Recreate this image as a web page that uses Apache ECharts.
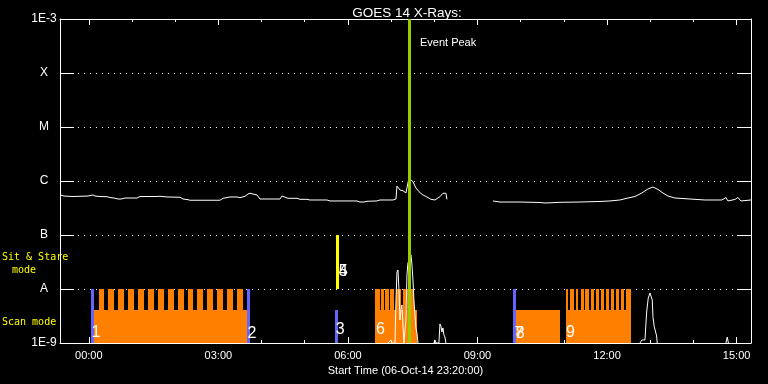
<!DOCTYPE html>
<html><head><meta charset="utf-8">
<script src="https://cdn.jsdelivr.net/npm/echarts@6/dist/echarts.min.js"></script>
<style>html,body{margin:0;padding:0;background:#000}#c{width:768px;height:384px}</style>
</head><body><div id="c"></div>
<script>
// Time unit: hours after 00:00 on 07-Oct-14 (plot starts 06-Oct-14 23:20:00)
const axisStart = -2/3, axisEnd = 15 + 1/3;
const majorHours = [0, 3, 6, 9, 12, 15];
const minorHours = [1, 2, 4, 5, 7, 8, 10, 11, 13, 14];
const levelNames = {'-9':'1E-9','-8':'A','-7':'B','-6':'C','-5':'M','-4':'X','-3':'1E-3'};
const floorLevel = 1e-9, scanLevel = 4.08e-9, aLevel = 1e-8, bLevel = 1e-7;

const goesPart1 = [[-0.667,5.51e-7],[-0.574,5.27e-7],[-0.389,5.16e-7],[-0.204,5.21e-7],[-0.018,5.27e-7],[0.028,5.51e-7],[0.097,5.51e-7],[0.144,5.27e-7],[0.26,5.16e-7],[0.422,5.12e-7],[0.491,4.94e-7],[0.584,4.84e-7],[0.677,4.64e-7],[0.746,4.64e-7],[0.839,4.84e-7],[0.954,4.84e-7],[1.117,4.84e-7],[1.186,5.16e-7],[1.418,5.16e-7],[1.533,5.16e-7],[1.579,5.34e-7],[1.649,5.21e-7],[1.811,5.06e-7],[2.112,5.0e-7],[2.182,4.64e-7],[2.297,4.51e-7],[2.344,4.4e-7],[3.038,4.4e-7],[3.108,4.78e-7],[3.27,5.06e-7],[3.432,5.06e-7],[3.501,4.91e-7],[3.617,5.21e-7],[3.686,5.74e-7],[3.733,5.92e-7],[3.802,5.74e-7],[3.894,5.51e-7],[3.964,4.64e-7],[4.195,4.64e-7],[4.427,4.64e-7],[4.473,5.27e-7],[4.519,5.06e-7],[4.612,4.78e-7],[4.821,4.78e-7],[4.89,4.58e-7],[5.052,4.58e-7],[5.122,4.45e-7],[5.515,4.45e-7],[5.585,4.27e-7],[6.21,4.27e-7],[6.279,4.08e-7],[6.372,4.08e-7],[6.441,4.21e-7],[6.673,4.27e-7],[6.742,4.45e-7],[7.043,4.45e-7],[7.113,4.64e-7],[7.136,8.07e-7],[7.159,7.74e-7],[7.205,6.81e-7],[7.275,6.61e-7],[7.321,6.07e-7],[7.344,6.0e-7],[7.367,7.42e-7],[7.413,1.14e-6],[7.436,1.17e-6],[7.506,9.7e-7],[7.575,7.42e-7],[7.645,6.34e-7],[7.737,5.51e-7],[7.83,5.06e-7],[7.922,4.58e-7],[8.015,4.45e-7],[8.061,4.58e-7],[8.131,5.12e-7],[8.2,5.92e-7],[8.27,5.92e-7],[8.293,4.58e-7]];
const goesPart2 = [[9.357,4.27e-7],[9.52,4.08e-7],[9.983,4.08e-7],[10.446,4.0e-7],[10.562,3.91e-7],[10.909,4.03e-7],[11.372,4.08e-7],[11.835,4.18e-7],[12.067,4.27e-7],[12.298,4.45e-7],[12.484,4.84e-7],[12.646,5.16e-7],[12.808,6.0e-7],[12.947,7.11e-7],[13.063,7.74e-7],[13.179,6.96e-7],[13.294,6.0e-7],[13.41,5.27e-7],[13.572,4.84e-7],[13.92,4.64e-7],[14.267,4.45e-7],[14.66,4.45e-7],[14.753,4.94e-7],[14.799,4.27e-7],[14.961,4.55e-7],[15.031,4.94e-7],[15.1,4.27e-7],[15.332,4.45e-7]];
const lowCurve = [[6.929,1e-9],[6.998,1.14e-9],[7.021,1e-9],[7.09,1e-9],[7.113,6.25e-9],[7.136,2.06e-8],[7.159,2.25e-8],[7.182,9.58e-9],[7.205,2.67e-9],[7.229,4.08e-9],[7.252,5.06e-9],[7.275,2.15e-9],[7.298,1e-9],[7.321,1e-9],[7.344,2.67e-9],[7.367,1.82e-8],[7.39,3.03e-8],[7.436,3.75e-8],[7.46,4.27e-8],[7.483,2.78e-8],[7.506,1.47e-8],[7.529,6.25e-9],[7.552,3.3e-9],[7.575,1.9e-9],[7.599,1.53e-9],[7.622,1e-9],[7.8,'-'],
  [7.993,1e-9],[8.015,1.14e-9],[8.038,1e-9],[8.107,1e-9],[8.131,2.25e-9],[8.154,2.06e-9],[8.177,1.6e-9],[8.2,1.9e-9],[8.223,1.41e-9],[8.246,1.29e-9],[8.27,1e-9],[10,'-'],
  [12.762,1e-9],[12.808,1.14e-9],[12.878,1.14e-9],[12.917,3.75e-9],[12.954,6.81e-9],[12.994,8.43e-9],[13.017,8.91e-9],[13.047,6.25e-9],[13.063,3.07e-9],[13.093,2.0e-9],[13.125,1.87e-9],[13.148,1.35e-9],[13.162,1e-9],[14,'-'],
  [14.753,1e-9],[14.783,1.29e-9],[14.811,1e-9]];

// Scan-mode intervals [start, end] in hours
const scanBase = [[0.121,3.663],[6.627,7.599],[9.891,10.91],[11.049,12.554]];
const scanSpikes = [[0.236,0.352],[0.445,0.584],[0.676,0.815],[0.908,1.047],[1.139,1.278],[1.371,1.51],[1.602,1.741],[1.834,1.973],[2.065,2.204],[2.297,2.413],[2.506,2.645],[2.737,2.876],[2.968,3.107],[3.2,3.339],[3.431,3.57],
  [6.627,6.743],[6.766,6.835],[6.858,6.951],[6.974,7.066],[7.113,7.229],[7.275,7.344],[7.367,7.529],
  [11.049,11.102],[11.149,11.227],[11.274,11.334],[11.39,11.459],[11.496,11.575],[11.621,11.704],[11.744,11.813],[11.859,11.929],[11.975,12.052],[12.091,12.168],[12.207,12.284],[12.323,12.4],[12.438,12.554]];
// Observation start markers [start, end, top level]
const markerBars = [[0.051,0.121,1e-8],[3.663,3.732,1e-8],[5.7,5.762,4.08e-9],[9.822,9.891,1e-8]];
const sitStare = [[5.731,5.785]];
const obsLabels = ['1','2','3','4','5','6','7','8','9'];
const obsLabelTimes = [0.167,3.78,5.82,5.89,5.89,6.754,9.96,9.99,11.15];
const obsLabelLevels = [1.53e-9,1.47e-9,1.8e-9,2.06e-8,2.06e-8,1.8e-9,1.5e-9,1.47e-9,1.53e-9];
const eventPeak = 7.413;
const eventLabelLevel = 3.67e-4;

const pad = n => (n < 10 ? '0' : '') + n;
const FONT = 'Liberation Sans';

function rectRender(params, api) {
  const p0 = api.coord([api.value(0), api.value(3)]);
  const p1 = api.coord([api.value(1), api.value(2)]);
  const x0 = Math.round(p0[0]), x1 = Math.round(p1[0]);
  const y0 = Math.round(p0[1]), y1 = Math.round(p1[1]);
  return {type:'rect', shape:{x:x0, y:y0, width:Math.max(1,x1-x0), height:y1-y0}, style:{fill:api.visual('color')}};
}
function rectSeries(data, color, z) {
  return {type:'custom', renderItem:rectRender, data:data, encode:{x:[0,1], y:[2,3]},
    itemStyle:{color:color}, z:z, silent:true, animation:false, clip:true};
}

const xBase = {type:'value', min:axisStart, max:axisEnd, gridIndex:0, splitLine:{show:false}};
const option = {
  backgroundColor:'#000',
  animation:false,
  title:{text:'GOES 14 X-Rays:', left:402, top:1, textAlign:'center',
    textStyle:{color:'#fff', fontFamily:FONT, fontSize:13.5, fontWeight:'normal'}},
  grid:{left:60, right:17, top:19, bottom:41},
  graphic:[
    {type:'text', left:2, top:252, style:{text:'Sit & Stare', fill:'#ffff00', font:'10px "DejaVu Sans Mono"'}},
    {type:'text', left:12, top:265, style:{text:'mode', fill:'#ffff00', font:'10px "DejaVu Sans Mono"'}},
    {type:'text', left:2, top:317, style:{text:'Scan mode', fill:'#ffff00', font:'10px "DejaVu Sans Mono"'}}
  ],
  xAxis:[
    Object.assign({}, xBase, {position:'bottom',
      axisLine:{onZero:false, lineStyle:{color:'#fff', width:1}},
      axisTick:{inside:true, length:6, customValues:majorHours, lineStyle:{color:'#fff'}},
      axisLabel:{customValues:majorHours, color:'#fff', fontFamily:FONT, fontSize:11, margin:7,
        formatter:v => pad(Math.round(v)) + ':00'},
      name:'Start Time (06-Oct-14 23:20:00)', nameLocation:'middle', nameGap:19,
      nameTextStyle:{color:'#fff', fontFamily:FONT, fontSize:11}}),
    Object.assign({}, xBase, {position:'bottom',
      axisLine:{show:false}, axisLabel:{show:false},
      axisTick:{inside:true, length:3, customValues:minorHours, lineStyle:{color:'#fff'}}}),
    Object.assign({}, xBase, {position:'top',
      axisLine:{onZero:false, lineStyle:{color:'#fff', width:1}}, axisLabel:{show:false},
      axisTick:{inside:true, length:6, customValues:majorHours, lineStyle:{color:'#fff'}}}),
    Object.assign({}, xBase, {position:'top',
      axisLine:{show:false}, axisLabel:{show:false},
      axisTick:{inside:true, length:3, customValues:minorHours, lineStyle:{color:'#fff'}}})
  ],
  yAxis:[
    {type:'log', logBase:10, min:1e-9, max:1e-3, position:'left',
      axisLine:{onZero:false, lineStyle:{color:'#fff', width:1}},
      axisTick:{inside:true, length:14, lineStyle:{color:'#fff'}},
      axisLabel:{color:'#fff', fontFamily:FONT, fontSize:12, align:'center', margin:16,
        formatter:v => levelNames[String(Math.round(Math.log10(v)))] || ''},
      splitLine:{show:true, lineStyle:{color:'#fff', width:1, type:[1,5]}}},
    {type:'log', logBase:10, min:1e-9, max:1e-3, position:'right',
      axisLine:{onZero:false, lineStyle:{color:'#fff', width:1}},
      axisTick:{inside:true, length:14, lineStyle:{color:'#fff'}},
      axisLabel:{show:false}, splitLine:{show:false}}
  ],
  series:[
    rectSeries(scanBase.map(d => [d[0], d[1], floorLevel, scanLevel]), '#ff8000', 2),
    rectSeries(scanSpikes.map(d => [d[0], d[1], floorLevel, aLevel]), '#ff8000', 2),
    rectSeries(markerBars.map(d => [d[0], d[1], floorLevel, d[2]]), '#6464ff', 3),
    rectSeries(sitStare.map(d => [d[0], d[1], aLevel, bLevel]), '#ffff00', 3),
    {type:'line', data:goesPart1, showSymbol:false, symbol:'none', lineStyle:{color:'#fff', width:1}, z:4, silent:true},
    {type:'line', data:goesPart2, showSymbol:false, symbol:'none', lineStyle:{color:'#fff', width:1}, z:4, silent:true},
    {type:'line', data:lowCurve, showSymbol:false, symbol:'none', connectNulls:false, lineStyle:{color:'#fff', width:1}, z:4, silent:true},
    {type:'custom', z:5, silent:true, data:obsLabelTimes.map((t,i) => [t, obsLabelLevels[i]]),
      renderItem:(params, api) => {
        const p = api.coord([api.value(0), api.value(1)]);
        return {type:'text', x:p[0], y:p[1], style:{text:obsLabels[params.dataIndex], fill:'#fff',
          font:'16px "' + FONT + '"', align:'center', verticalAlign:'middle'}};
      }},
    {type:'custom', z:6, silent:true, data:[[eventPeak, eventLabelLevel]],
      renderItem:(params, api) => {
        const p = api.coord([api.value(0), api.value(1)]);
        return {type:'text', x:p[0] + 11, y:p[1], style:{text:'Event Peak', fill:'#fff',
          font:'11px "' + FONT + '"', align:'left', verticalAlign:'middle'}};
      },
      markLine:{silent:true, symbol:'none', animation:false, label:{show:false},
        lineStyle:{color:'#99cc00', width:3, type:'solid'}, data:[{xAxis:eventPeak}]}}
  ]
};
const chart = echarts.init(document.getElementById('c'), null, {renderer:'canvas'});
chart.setOption(option);
</script></body></html>
